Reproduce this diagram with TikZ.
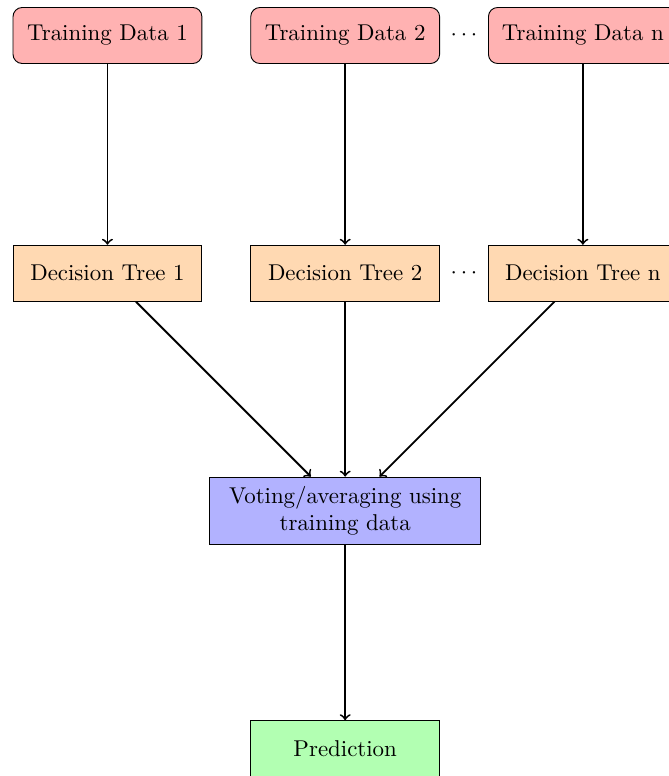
\documentclass[tikz,border=0pt]{standalone}
\usetikzlibrary{calc}

\begin{document}
\begin{tikzpicture}[
    data/.style={draw, rounded corners, fill=red!30, minimum width=2.9cm, minimum height=0.86cm},
    tree/.style={draw, fill=orange!30, minimum width=2.9cm, minimum height=0.86cm},
    arrow/.style={->, thick}
]
    % the page is cut to this frame
    \useasboundingbox (-1.65, 0.545) rectangle (8.62, -11.37);

    \node [data] (D1) at (0, 0) {Training Data 1};
    \node [data] (D2) at ($(D1) + (3.65, 0)$) {Training Data 2};
    \node [data] (Dn) at ($(D2) + (3.65, 0)$) {Training Data n};
    \node (Ddots) at ($(D2)!0.5!(Dn)$) {$\cdots$};
        \node [tree] (T1) at ($(D1) + (0, -3.65)$) {Decision Tree 1};
        \node [tree] (T2) at ($(D2) + (0, -3.65)$) {Decision Tree 2};
        \node [tree] (Tn) at ($(Dn) + (0, -3.65)$) {Decision Tree n};
        \node (Tdots) at ($(T2)!0.5!(Tn)$) {$\cdots$};
    \node [draw, fill=blue!30, text width=3.93cm, align=center, minimum height=1.04cm] (V) at ($(T2) + (0, -3.65)$) {Voting/averaging using\\ training data};
        \node [draw, fill=green!30, minimum width=2.9cm, minimum height=0.86cm] (P) at ($(V) + (0, -3.65)$) {Prediction};

    \draw [arrow] (D1) -- (T1);
    \draw [arrow] (D2) -- (T2);
    \draw [arrow] (Dn) -- (Tn);
        \draw [arrow] (T1) -- (V);
        \draw [arrow] (T2) -- (V);
        \draw [arrow] (Tn) -- (V);
    \draw [arrow] (V) -- (P);
\end{tikzpicture}
\end{document}
